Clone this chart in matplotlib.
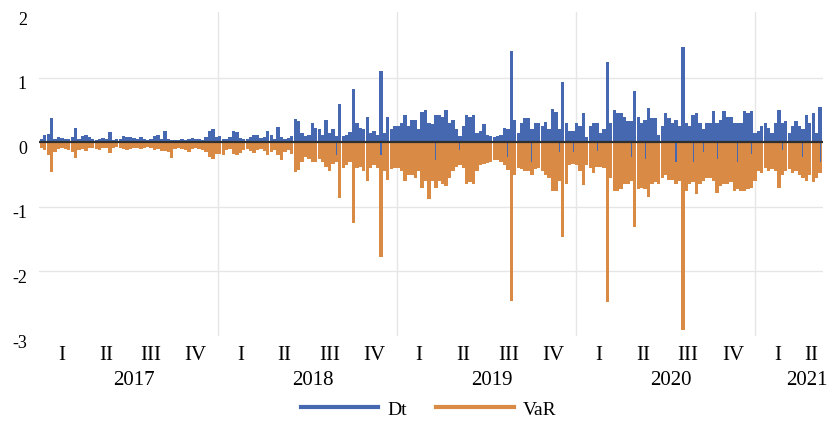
import matplotlib
matplotlib.use("Agg")
import matplotlib.pyplot as plt
import matplotlib.dates as mdates
import matplotlib.transforms as mtransforms
from matplotlib.lines import Line2D
import numpy as np
import pandas as pd

# weekly extremes (Dt = weekly max, VaR = weekly min), from first week of 2017
dt = [
    # 2017
    0.05, 0.12, 0.13, 0.38, 0.06, 0.08, 0.07, 0.06, 0.05, 0.09,
    0.22, 0.06, 0.10, 0.12, 0.09, 0.05, 0.04, 0.06, 0.07, 0.05,
    0.16, 0.04, 0.05, 0.06, 0.10, 0.08, 0.09, 0.07, 0.06, 0.08,
    0.05, 0.04, 0.06, 0.10, 0.11, 0.06, 0.17, 0.05, 0.04, 0.03,
    0.04, 0.05, 0.03, 0.06, 0.07, 0.05, 0.06, 0.04, 0.08, 0.18,
    0.20, 0.08,
    # 2018
    0.10, 0.06, 0.05, 0.08, 0.17, 0.16, 0.07, 0.05, 0.06, 0.09,
    0.12, 0.11, 0.07, 0.08, 0.17, 0.12, 0.06, 0.24, 0.08, 0.05,
    0.07, 0.10, 0.36, 0.33, 0.15, 0.10, 0.12, 0.30, 0.22, 0.20,
    0.12, 0.34, 0.14, 0.20, 0.10, 0.60, 0.10, 0.12, 0.16, 0.83,
    0.30, 0.22, 0.20, 0.40, 0.15, 0.18, 0.12, 1.11, 0.15, 0.40,
    0.20, 0.25,
    # 2019
    0.25, 0.30, 0.43, 0.25, 0.35, 0.35, 0.20, 0.47, 0.50, 0.30,
    0.28, 0.42, 0.42, 0.40, 0.50, 0.30, 0.34, 0.20, 0.10, 0.25,
    0.42, 0.40, 0.42, 0.15, 0.18, 0.28, 0.12, 0.10, 0.08, 0.10,
    0.12, 0.23, 0.20, 1.42, 0.35, 0.15, 0.30, 0.37, 0.37, 0.20,
    0.30, 0.30, 0.25, 0.32, 0.20, 0.52, 0.47, 0.20, 0.93, 0.30,
    0.18, 0.18,
    # 2020
    0.30, 0.25, 0.45, 0.08, 0.25, 0.30, 0.30, 0.15, 0.20, 1.25,
    0.30, 0.50, 0.45, 0.45, 0.40, 0.33, 0.33, 0.79, 0.40, 0.30,
    0.35, 0.53, 0.38, 0.38, 0.12, 0.25, 0.45, 0.38, 0.30, 0.35,
    0.25, 1.47, 0.30, 0.25, 0.42, 0.45, 0.30, 0.20, 0.30, 0.30,
    0.48, 0.30, 0.35, 0.48, 0.40, 0.40, 0.30, 0.30, 0.30, 0.48,
    0.45, 0.48, 0.15,
    # 2021
    0.18, 0.25, 0.30, 0.22, 0.15, 0.30, 0.50, 0.30, 0.33, 0.15,
    0.25, 0.33, 0.25, 0.20, 0.42, 0.30, 0.45, 0.15, 0.55,
]

var = [
    # 2017
    -0.08, -0.12, -0.20, -0.46, -0.15, -0.10, -0.08, -0.10, -0.12, -0.15,
    -0.24, -0.12, -0.10, -0.13, -0.09, -0.08, -0.10, -0.12, -0.09, -0.08,
    -0.17, -0.08, -0.07, -0.09, -0.10, -0.12, -0.11, -0.09, -0.08, -0.10,
    -0.08, -0.07, -0.09, -0.12, -0.10, -0.14, -0.13, -0.15, -0.24, -0.10,
    -0.08, -0.10, -0.12, -0.15, -0.11, -0.08, -0.10, -0.12, -0.15, -0.22,
    -0.26, -0.18,
    # 2018
    -0.18, -0.20, -0.12, -0.10, -0.18, -0.20, -0.17, -0.12, -0.10, -0.14,
    -0.16, -0.12, -0.10, -0.13, -0.20, -0.15, -0.12, -0.20, -0.27, -0.15,
    -0.12, -0.18, -0.46, -0.43, -0.30, -0.22, -0.25, -0.30, -0.30, -0.25,
    -0.30, -0.38, -0.44, -0.33, -0.30, -0.86, -0.40, -0.35, -0.30, -1.25,
    -0.40, -0.38, -0.45, -0.60, -0.40, -0.35, -0.40, -1.78, -0.45, -0.58,
    -0.42, -0.40,
    # 2019
    -0.40, -0.45, -0.60, -0.50, -0.50, -0.55, -0.45, -0.70, -0.60, -0.88,
    -0.60, -0.70, -0.60, -0.65, -0.68, -0.55, -0.45, -0.38, -0.35, -0.40,
    -0.65, -0.62, -0.65, -0.45, -0.35, -0.33, -0.32, -0.30, -0.28, -0.27,
    -0.30, -0.35, -0.43, -2.45, -0.50, -0.40, -0.42, -0.45, -0.45, -0.50,
    -0.42, -0.40, -0.45, -0.50, -0.55, -0.75, -0.75, -0.60, -1.47, -0.65,
    -0.35, -0.33,
    # 2020
    -0.35, -0.45, -0.66, -0.35, -0.40, -0.48, -0.38, -0.38, -0.40, -2.48,
    -0.55, -0.75, -0.75, -0.72, -0.65, -0.65, -0.60, -1.31, -0.72, -0.70,
    -0.72, -0.85, -0.65, -0.62, -0.65, -0.55, -0.50, -0.58, -0.58, -0.65,
    -0.60, -2.90, -0.75, -0.65, -0.62, -0.80, -0.65, -0.60, -0.55, -0.55,
    -0.60, -0.78, -0.68, -0.65, -0.65, -0.62, -0.75, -0.72, -0.75, -0.75,
    -0.72, -0.70, -0.60,
    # 2021
    -0.45, -0.48, -0.40, -0.45, -0.42, -0.45, -0.70, -0.50, -0.45, -0.42,
    -0.48, -0.45, -0.50, -0.55, -0.60, -0.50, -0.62, -0.55, -0.48,
]

# weeks where Dt itself dips below zero (index into the weekly series)
dip_weeks = [86, 99, 115, 122, 136, 143, 151, 155, 162, 172, 176, 185,
             190, 193, 197, 203, 207, 216, 222, 227]
dip_vals = [-0.20, -0.20, -0.28, -0.12, -0.22, -0.30, -0.15, -0.15, -0.14, -0.22,
            -0.25, -0.30, -0.30, -0.15, -0.25, -0.30, -0.18, -0.12, -0.22, -0.30]

years = [2017, 2018, 2019, 2020, 2021]
quarters = ["I", "II", "III", "IV"]

BLUE = "#4568b0"
ORANGE = "#d98a45"
GRID = "#e6e6e6"

plt.rcParams["font.family"] = ["Liberation Serif", "DejaVu Serif"]
plt.rcParams["axes.unicode_minus"] = False

W, H = 827, 427
fig = plt.figure(figsize=(W / 100, H / 100), dpi=100)
ax = fig.add_axes([39.4 / W, 1 - 337 / H, (823 - 39.4) / W, 324 / H])

weeks = pd.date_range("2017-01-02", periods=len(dt), freq="7D") + pd.Timedelta(days=3)
x0, x1 = pd.Timestamp("2017-01-01"), pd.Timestamp("2021-05-19")

ax.bar(weeks, var, width=6.8, color=ORANGE, linewidth=0, zorder=2)
ax.bar(weeks, dt, width=6.8, color=BLUE, linewidth=0, zorder=3)
ax.bar(weeks[dip_weeks], dip_vals, width=2.2, color=BLUE, linewidth=0, zorder=3)
ax.axhline(0, color="#2f2f2f", lw=1.6, zorder=4)

for v in [1, -1, -2]:
    ax.axhline(v, color=GRID, lw=1, zorder=0)
for y in years[1:]:
    ax.axvline(pd.Timestamp(f"{y}-01-01"), color=GRID, lw=1, zorder=0)

ax.set_xlim(x0, x1)
ax.set_ylim(-3.0, 2.02)
ax.set_yticks([-3, -2, -1, 0, 1, 2])
ax.set_yticklabels(["-3", "-2", "-1", "0", "1", "2"])
ax.tick_params(axis="y", length=0, pad=9, labelsize=13)
# labels in the original sit a few pixels below their gridlines
shift = mtransforms.ScaledTranslation(0, -0.04, fig.dpi_scale_trans)
for t in ax.get_yticklabels():
    t.set_transform(t.get_transform() + shift)
ax.set_xticks([])
for s in ax.spines.values():
    s.set_visible(False)

# two-level category labels: quarters, then years
for y in years:
    for q, lab in enumerate(quarters):
        a = pd.Timestamp(y, 3 * q + 1, 1)
        b = pd.Timestamp(y + (q == 3), (3 * q + 3) % 12 + 1, 1)
        if a >= x1:
            continue
        mid = a + (min(b, x1) - a) / 2
        ax.annotate(lab, xy=(mdates.date2num(mid), 0), xycoords=("data", "axes fraction"),
                    xytext=(0, -13), textcoords="offset points",
                    ha="center", va="center", fontsize=15)
    a, b = pd.Timestamp(y, 1, 1), pd.Timestamp(y + 1, 1, 1)
    if b > x1:
        xy, ha, dx = mdates.date2num(x1), "right", 3
    else:
        xy, ha, dx = mdates.date2num(a + (b - a) / 2), "center", 4
    ax.annotate(str(y), xy=(xy, 0), xycoords=("data", "axes fraction"),
                xytext=(dx, -31), textcoords="offset points",
                ha=ha, va="center", fontsize=15)

handles = [Line2D([], [], color=BLUE, lw=3), Line2D([], [], color=ORANGE, lw=3)]
fig.legend(handles, ["Dt", "VaR"], loc="center", bbox_to_anchor=(0.518, 1 - 410 / H),
           ncol=2, frameon=False, fontsize=14, handlelength=4.0,
           handletextpad=0.45, columnspacing=1.5)

fig.savefig("out.png", dpi=100)
